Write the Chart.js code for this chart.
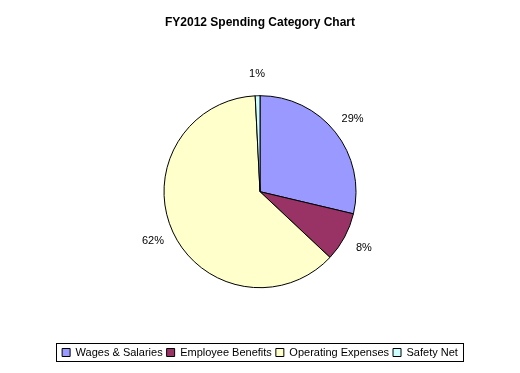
<!DOCTYPE html>
<html>
<head>
<meta charset="utf-8">
<script src="https://cdn.jsdelivr.net/npm/chart.js@4.4.1/dist/chart.umd.min.js"></script>
<style>
  html, body { margin: 0; padding: 0; background: #fff; }
  #wrap { width: 520px; height: 373px; }
</style>
</head>
<body>
<div id="wrap"><canvas id="spendChart" width="520" height="373"></canvas></div>
<script>
const titleText = "FY2012 Spending Category Chart";
const categories = ["Wages & Salaries", "Employee Benefits", "Operating Expenses", "Safety Net"];
const shares = [28.7, 8.3, 62.2, 0.8];
const sliceColors = ["#9999FF", "#993366", "#FFFFCC", "#CCFFFF"];

const fontFamily = "'Liberation Sans', Arial, sans-serif";

// percent labels outside each slice
const percentLabels = {
  id: "percentLabels",
  afterDatasetsDraw(chart) {
    const ctx = chart.ctx;
    const total = shares.reduce((a, b) => a + b, 0);
    ctx.save();
    ctx.font = "11px " + fontFamily;
    ctx.fillStyle = "#000";
    ctx.textAlign = "center";
    ctx.textBaseline = "middle";
    chart.getDatasetMeta(0).data.forEach((arc, i) => {
      const p = arc.getProps(["x", "y", "startAngle", "endAngle", "outerRadius"], true);
      const mid = (p.startAngle + p.endAngle) / 2;
      const dist = p.outerRadius + 22;
      const txt = Math.round(shares[i] / total * 100) + "%";
      ctx.fillText(txt, p.x + Math.cos(mid) * dist, p.y + Math.sin(mid) * dist);
    });
    ctx.restore();
  }
};

// frame around the legend, like the original
const legendFrame = {
  id: "legendFrame",
  afterDraw(chart) {
    const boxes = chart.legend.legendHitBoxes;
    if (!boxes || !boxes.length) return;
    let x0 = Infinity, x1 = -Infinity, y0 = Infinity, y1 = -Infinity;
    boxes.forEach(b => {
      x0 = Math.min(x0, b.left);
      x1 = Math.max(x1, b.left + b.width);
      y0 = Math.min(y0, b.top);
      y1 = Math.max(y1, b.top + b.height);
    });
    const ctx = chart.ctx;
    ctx.save();
    ctx.strokeStyle = "#000";
    ctx.lineWidth = 1;
    ctx.strokeRect(Math.round(x0 - 6) + 0.5, Math.round(y0 - 4) + 0.5,
      Math.round(x1 - x0 + 11), Math.round(y1 - y0 + 7));
    ctx.restore();
  }
};

new Chart(document.getElementById("spendChart"), {
  type: "pie",
  data: {
    labels: categories,
    datasets: [{
      data: shares,
      backgroundColor: sliceColors,
      borderColor: "#000",
      borderWidth: 1
    }]
  },
  options: {
    responsive: false,
    animation: false,
    radius: 96,
    layout: { padding: { top: 0, bottom: 5, left: 0, right: 0 } },
    plugins: {
      title: {
        display: true,
        text: titleText,
        color: "#000",
        font: { family: fontFamily, size: 12, weight: "bold" },
        padding: { top: 15, bottom: 11 }
      },
      legend: {
        position: "bottom",
        labels: {
          color: "#000",
          font: { family: fontFamily, size: 11 },
          boxWidth: 8,
          boxHeight: 8,
          padding: 4,
          generateLabels(chart) {
            return categories.map((c, i) => ({
              text: c,
              fillStyle: sliceColors[i],
              strokeStyle: "#000",
              lineWidth: 1,
              index: i
            }));
          }
        }
      },
      tooltip: { enabled: false }
    }
  },
  plugins: [percentLabels, legendFrame]
});
</script>
</body>
</html>
